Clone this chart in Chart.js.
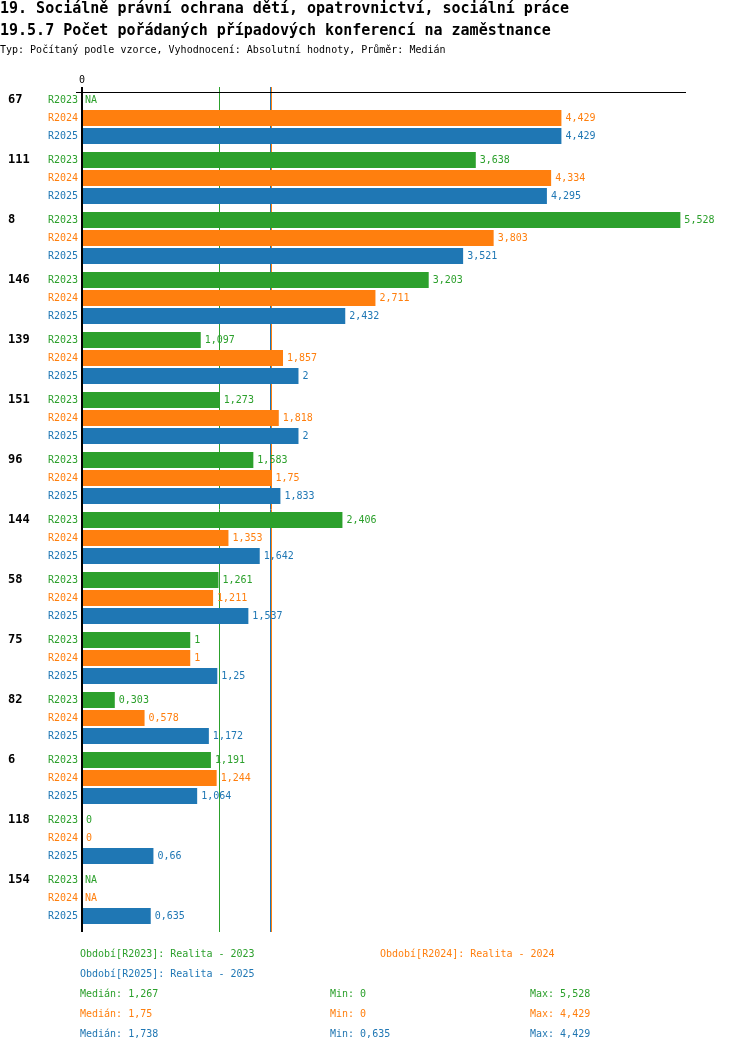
<!DOCTYPE html>
<html>
<head>
<meta charset="utf-8">
<script src="https://cdn.jsdelivr.net/npm/chart.js@4"></script>
<style>
    body { margin: 0; background: #fff; }
    #wrap { position: relative; width: 750px; height: 1052px; font-family: "DejaVu Sans Mono", monospace; }
    #chart { position: absolute; left: 0; top: 0; }
    .txt { position: absolute; white-space: pre; font-size: 10px; line-height: 12px; }
    .title { font-size: 15px; line-height: 18px; font-weight: bold; color: #000; }
</style>
</head>
<body>
<div id="wrap">
    <canvas id="chart" width="750" height="1052"></canvas>
    <div class="txt title" style="left:0;top:-1px">19. Sociálně právní ochrana dětí, opatrovnictví, sociální práce</div>
    <div class="txt title" style="left:0;top:21px">19.5.7 Počet pořádaných případových konferencí na zaměstnance</div>
    <div class="txt" style="left:0;top:44px;color:#000">Typ: Počítaný podle vzorce, Vyhodnocení: Absolutní hodnoty, Průměr: Medián</div>
    <div id="legend"></div>
</div>
<script>
// data
const groups = ['67', '111', '8', '146', '139', '151', '96', '144', '58', '75', '82', '6', '118', '154'];
const seriesNames = ['R2023', 'R2024', 'R2025'];
const seriesTitles = ['Realita - 2023', 'Realita - 2024', 'Realita - 2025'];
const colors = ['#2ca02c', '#ff7f0e', '#1f77b4'];

const r2023 = [null, 3.638, 5.528, 3.203, 1.097, 1.273, 1.583, 2.406, 1.261, 1, 0.303, 1.191, 0, null];
const r2024 = [4.429, 4.334, 3.803, 2.711, 1.857, 1.818, 1.75, 1.353, 1.211, 1, 0.578, 1.244, 0, null];
const r2025 = [4.429, 4.295, 3.521, 2.432, 2, 2, 1.833, 1.642, 1.537, 1.25, 1.172, 1.064, 0.66, 0.635];

const medians = [1.267, 1.75, 1.738];
const mins = [0, 0, 0.635];
const maxs = [5.528, 4.429, 4.429];

const xMax = 5.58;

(function() {
    'use strict';

    const FONT = '"DejaVu Sans Mono", monospace';
    const fmt = function(v) { return String(v).replace('.', ','); };

    // legend + stats below the chart
    const legend = document.getElementById('legend');
    const legendPos = [[80, 948], [380, 948], [80, 968]];
    const addText = function(x, y, text, color) {
        const d = document.createElement('div');
        d.className = 'txt';
        d.style.left = x + 'px';
        d.style.top = y + 'px';
        d.style.color = color;
        d.textContent = text;
        legend.appendChild(d);
    };
    seriesNames.forEach(function(name, i) {
        addText(legendPos[i][0], legendPos[i][1], 'Období[' + name + ']: ' + seriesTitles[i], colors[i]);
        addText(80, 988 + i * 20, 'Medián: ' + fmt(medians[i]), colors[i]);
        addText(330, 988 + i * 20, 'Min: ' + fmt(mins[i]), colors[i]);
        addText(530, 988 + i * 20, 'Max: ' + fmt(maxs[i]), colors[i]);
    });

    const labelPlugin = {
        id: 'labels',
        beforeDatasetsDraw: function(chart) {
            const ctx = chart.ctx;
            const x = chart.scales.x;
            const area = chart.chartArea;
            ctx.save();
            ctx.lineWidth = 1;
            medians.forEach(function(m, i) {
                const px = Math.round(x.getPixelForValue(m)) + 0.5;
                ctx.strokeStyle = colors[i];
                ctx.beginPath();
                ctx.moveTo(px, area.top - 1);
                ctx.lineTo(px, area.bottom + 4);
                ctx.stroke();
            });
            ctx.restore();
        },
        afterDatasetsDraw: function(chart) {
            const ctx = chart.ctx;
            const x = chart.scales.x;
            const area = chart.chartArea;
            const x0 = x.getPixelForValue(0);
            ctx.save();

            // axes
            ctx.strokeStyle = '#000';
            ctx.lineWidth = 1;
            ctx.beginPath();
            ctx.moveTo(76, area.top + 4.5);
            ctx.lineTo(area.right, area.top + 4.5);
            ctx.stroke();
            ctx.lineWidth = 2;
            ctx.beginPath();
            ctx.moveTo(x0, area.top - 1);
            ctx.lineTo(x0, area.bottom + 4);
            ctx.stroke();

            ctx.fillStyle = '#000';
            ctx.font = '10px ' + FONT;
            ctx.textAlign = 'center';
            ctx.textBaseline = 'middle';
            ctx.fillText('0', x0, area.top - 8);

            chart.data.datasets.forEach(function(ds, di) {
                const meta = chart.getDatasetMeta(di);
                meta.data.forEach(function(bar, i) {
                    const v = ds.data[i];
                    ctx.font = '10px ' + FONT;
                    ctx.textBaseline = 'middle';
                    ctx.fillStyle = colors[di];
                    ctx.textAlign = 'right';
                    ctx.fillText(seriesNames[di], 78, bar.y);
                    ctx.textAlign = 'left';
                    if (v === null) {
                        ctx.fillText('NA', x0 + 3, bar.y);
                    } else {
                        ctx.fillText(fmt(v), bar.x + 4, bar.y);
                    }
                    if (di === 0) {
                        ctx.fillStyle = '#000';
                        ctx.font = 'bold 12px ' + FONT;
                        ctx.fillText(groups[i], 8, bar.y);
                    }
                });
            });
            ctx.restore();
        }
    };

    new Chart(document.getElementById('chart'), {
        type: 'bar',
        data: {
            labels: groups,
            datasets: [r2023, r2024, r2025].map(function(values, i) {
                return {
                    label: seriesNames[i],
                    data: values,
                    backgroundColor: colors[i],
                    categoryPercentage: 0.9,
                    barPercentage: 16 / 18
                };
            })
        },
        options: {
            indexAxis: 'y',
            responsive: false,
            animation: false,
            devicePixelRatio: 1,
            layout: { padding: { left: 82, right: 64, top: 88, bottom: 124 } },
            scales: {
                x: { display: false, min: 0, max: xMax },
                y: { display: false }
            },
            plugins: {
                legend: { display: false },
                tooltip: { enabled: false }
            }
        },
        plugins: [labelPlugin]
    });
})();
</script>
</body>
</html>
